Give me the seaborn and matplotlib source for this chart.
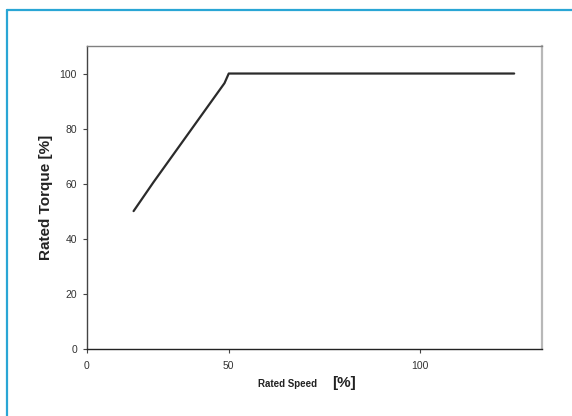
import numpy as np
import pandas as pd
import matplotlib
matplotlib.use("Agg")
import matplotlib.pyplot as plt
import seaborn as sns
from matplotlib.lines import Line2D

# values
speed = [16.5, 23.5, 48.5, 50, 124.7]
torque = [50, 60.5, 96.5, 100, 100]
xticks = [0, 50, 100]
yticks = [0, 20, 40, 60, 80, 100]

# the original x axis is stretched above 50 %
K = 191.0 / 142.0


def fwd(x):
    x = np.asarray(x, dtype=float)
    return np.where(x <= 50, x, 50 + (x - 50) * K)


def inv(x):
    x = np.asarray(x, dtype=float)
    return np.where(x <= 50, x, 50 + (x - 50) / K)


sns.set_style("white")
plt.rcParams['font.family'] = ['Liberation Sans', 'DejaVu Sans']

df = pd.DataFrame({"speed": speed, "torque": torque})

fig = plt.figure(figsize=(5.72, 4.16), dpi=100)
ax = fig.add_axes([0.1516, 0.1618, 0.7954, 0.7276])
sns.lineplot(data=df, x="speed", y="torque", ax=ax, color="#2b2b2b",
             linewidth=1.6, sort=False)

ax.set_xscale("function", functions=(fwd, inv))
ax.set_xlim(0, 131.9)
ax.set_ylim(0, 110)
ax.set_xticks(xticks)
ax.set_yticks(yticks)
ax.set_xlabel("")
ax.set_ylabel("Rated Torque [%]", fontsize=11, fontweight="bold", color="#222222", labelpad=5)

ax.tick_params(axis="both", direction="out", length=3, width=0.8, color="#444444",
               labelsize=7.5, labelcolor="#333333")
ax.tick_params(axis="x", pad=6)
ax.tick_params(axis="y", pad=4)
ax.xaxis.set_ticks_position("bottom")
ax.yaxis.set_ticks_position("left")

ax.spines["left"].set_color("#444444")
ax.spines["left"].set_linewidth(1.0)
ax.spines["bottom"].set_color("#222222")
ax.spines["bottom"].set_linewidth(1.0)
ax.spines["top"].set_color("#808080")
ax.spines["top"].set_linewidth(1.0)
ax.spines["right"].set_color("#b8b8b8")
ax.spines["right"].set_linewidth(1.6)

# x label: small bold text with a larger bracket part
fig.text(0.554, 0.069, "Rated Speed", ha="right", va="baseline",
         fontsize=7, fontweight="bold", color="#222222")
fig.text(0.580, 0.069, "[%]", ha="left", va="baseline",
         fontsize=11, fontweight="bold", color="#222222")

# blue frame on the top and left edges
blue = "#2aa6d5"
fig.add_artist(Line2D([0.0124, 1.0], [0.9760, 0.9760], transform=fig.transFigure,
                      color=blue, linewidth=1.6))
fig.add_artist(Line2D([0.0124, 0.0124], [0.0, 0.9760], transform=fig.transFigure,
                      color=blue, linewidth=1.6))

fig.savefig("out.png", dpi=100)
